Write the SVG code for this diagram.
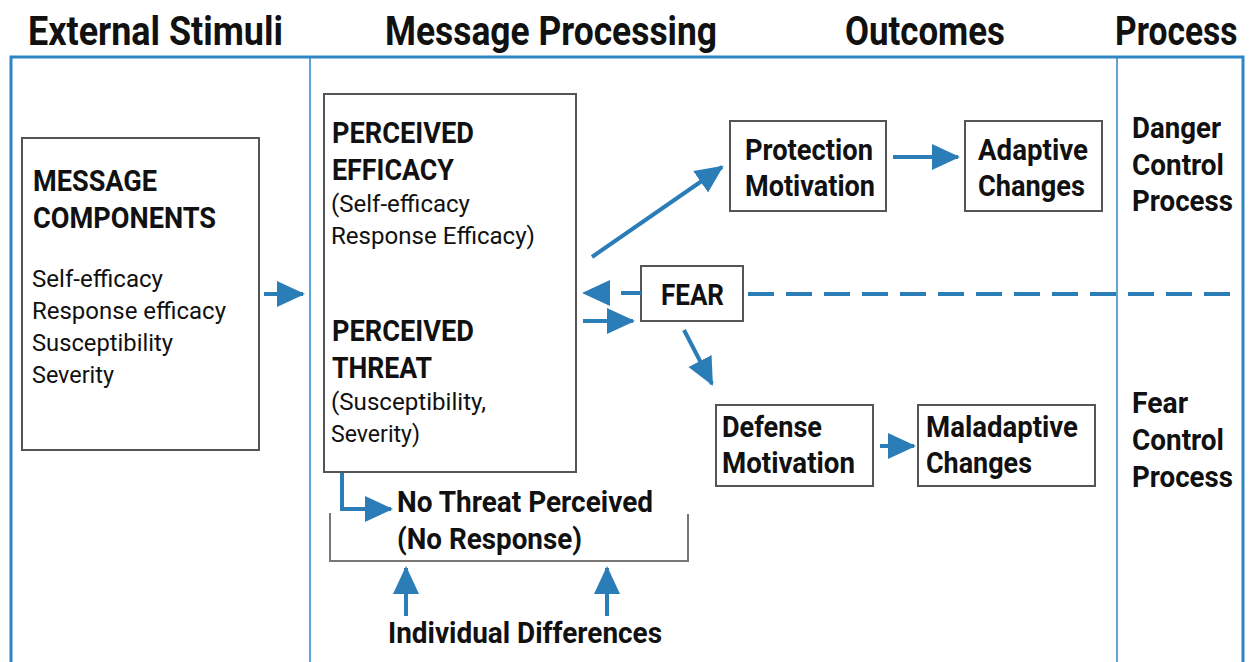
<svg xmlns="http://www.w3.org/2000/svg" width="1254" height="662" viewBox="0 0 1254 662">
<style>
.hdr{font-family:Roboto,"Liberation Sans",sans-serif;font-weight:bold;font-size:40px;fill:#111}
.b{font-family:Roboto,"Liberation Sans",sans-serif;font-weight:bold;font-size:29px;fill:#111}
.r{font-family:Roboto,"Liberation Sans",sans-serif;font-size:23px;fill:#111}
.box{fill:#fff;stroke:#555;stroke-width:2}
.con{stroke:#2b7db8;stroke-width:4;fill:none}
.frame{fill:none;stroke:#2d86c3}
</style>
<defs>
<marker id="ah" markerUnits="userSpaceOnUse" markerWidth="30" markerHeight="30" viewBox="0 0 30 30" refX="26" refY="15" orient="auto">
<path d="M0,2 L28,15 L0,28 Z" fill="#2b7db8"/>
</marker>
</defs>
<rect width="1254" height="662" fill="#fff"/>
<g id="headers">
<text class="hdr" x="28" y="45" textLength="255" lengthAdjust="spacingAndGlyphs">External Stimuli</text>
<text class="hdr" x="385" y="45" textLength="332" lengthAdjust="spacingAndGlyphs">Message Processing</text>
<text class="hdr" x="845" y="45" textLength="160" lengthAdjust="spacingAndGlyphs">Outcomes</text>
<text class="hdr" transform="translate(1115,45) scale(0.84,1)" x="0" y="0">Process</text>
</g>
<g id="frame">
<rect class="frame" x="11" y="57" width="1232" height="630" stroke-width="3"/>
<line class="frame" x1="310" y1="58" x2="310" y2="662" stroke-width="1.5"/>
<line class="frame" x1="1117" y1="58" x2="1117" y2="662" stroke-width="1.5"/>
</g>
<g id="message-components">
<rect class="box" x="22" y="138" width="237" height="312"/>
<text class="b" x="33" y="191" textLength="124" lengthAdjust="spacingAndGlyphs">MESSAGE</text>
<text class="b" x="33" y="228" textLength="183" lengthAdjust="spacingAndGlyphs">COMPONENTS</text>
<text class="r" x="32" y="287" textLength="131" lengthAdjust="spacingAndGlyphs">Self-efficacy</text>
<text class="r" x="32" y="319" textLength="194" lengthAdjust="spacingAndGlyphs">Response efficacy</text>
<text class="r" x="32" y="351" textLength="141" lengthAdjust="spacingAndGlyphs">Susceptibility</text>
<text class="r" x="32" y="383" textLength="82" lengthAdjust="spacingAndGlyphs">Severity</text>
</g>
<g id="perceived">
<rect class="box" x="324" y="94" width="252" height="378"/>
<text class="b" x="332" y="143" textLength="142" lengthAdjust="spacingAndGlyphs">PERCEIVED</text>
<text class="b" x="332" y="180" textLength="122" lengthAdjust="spacingAndGlyphs">EFFICACY</text>
<text class="r" x="331" y="212" textLength="139" lengthAdjust="spacingAndGlyphs">(Self-efficacy</text>
<text class="r" x="331" y="244" textLength="204" lengthAdjust="spacingAndGlyphs">Response Efficacy)</text>
<text class="b" x="332" y="341" textLength="142" lengthAdjust="spacingAndGlyphs">PERCEIVED</text>
<text class="b" x="332" y="378" textLength="100" lengthAdjust="spacingAndGlyphs">THREAT</text>
<text class="r" x="331" y="410" textLength="155" lengthAdjust="spacingAndGlyphs">(Susceptibility,</text>
<text class="r" x="331" y="442" textLength="89" lengthAdjust="spacingAndGlyphs">Severity)</text>
</g>
<g id="fear">
<rect class="box" x="641" y="266" width="102" height="55"/>
<text class="b" x="661" y="305" textLength="63" lengthAdjust="spacingAndGlyphs">FEAR</text>
</g>
<g id="protection-motivation">
<rect class="box" x="730" y="121" width="156" height="90"/>
<text class="b" x="745" y="160" textLength="128" lengthAdjust="spacingAndGlyphs">Protection</text>
<text class="b" x="745" y="196" textLength="130" lengthAdjust="spacingAndGlyphs">Motivation</text>
</g>
<g id="adaptive-changes">
<rect class="box" x="965" y="121" width="137" height="90"/>
<text class="b" x="978" y="160" textLength="110" lengthAdjust="spacingAndGlyphs">Adaptive</text>
<text class="b" x="978" y="196" textLength="107" lengthAdjust="spacingAndGlyphs">Changes</text>
</g>
<g id="defense-motivation">
<rect class="box" x="716" y="405" width="157" height="81"/>
<text class="b" x="722" y="437" textLength="100" lengthAdjust="spacingAndGlyphs">Defense</text>
<text class="b" x="722" y="473" textLength="133" lengthAdjust="spacingAndGlyphs">Motivation</text>
</g>
<g id="maladaptive-changes">
<rect class="box" x="918" y="405" width="177" height="81"/>
<text class="b" x="926" y="437" textLength="152" lengthAdjust="spacingAndGlyphs">Maladaptive</text>
<text class="b" x="926" y="473" textLength="106" lengthAdjust="spacingAndGlyphs">Changes</text>
</g>
<g id="danger-control">
<text class="b" x="1132" y="138" textLength="89" lengthAdjust="spacingAndGlyphs">Danger</text>
<text class="b" x="1132" y="175" textLength="92" lengthAdjust="spacingAndGlyphs">Control</text>
<text class="b" x="1132" y="211" textLength="101" lengthAdjust="spacingAndGlyphs">Process</text>
</g>
<g id="fear-control">
<text class="b" x="1132" y="413" textLength="56" lengthAdjust="spacingAndGlyphs">Fear</text>
<text class="b" x="1132" y="450" textLength="92" lengthAdjust="spacingAndGlyphs">Control</text>
<text class="b" x="1132" y="487" textLength="101" lengthAdjust="spacingAndGlyphs">Process</text>
</g>
<g id="no-threat">
<text class="b" x="397" y="512" textLength="256" lengthAdjust="spacingAndGlyphs">No Threat Perceived</text>
<text class="b" x="397" y="549" textLength="185" lengthAdjust="spacingAndGlyphs">(No Response)</text>
<path d="M330,513 V561 H688 V514" fill="none" stroke="#777" stroke-width="2"/>
</g>
<g id="individual-differences">
<text class="b" x="388" y="643" textLength="274" lengthAdjust="spacingAndGlyphs">Individual Differences</text>
</g>
<g id="connectors">
<line class="con" x1="264" y1="294" x2="303" y2="294" marker-end="url(#ah)"/>
<line class="con" x1="592" y1="257" x2="722" y2="167" marker-end="url(#ah)"/>
<line class="con" x1="893" y1="157" x2="958" y2="157" marker-end="url(#ah)"/>
<line class="con" x1="641" y1="293" x2="584" y2="293" stroke-dasharray="20,12" stroke-width="3" marker-end="url(#ah)"/>
<line class="con" x1="748" y1="294" x2="1243" y2="294" stroke-dasharray="26,12" stroke-width="3"/>
<line class="con" x1="583" y1="321" x2="633" y2="321" stroke-width="3" marker-end="url(#ah)"/>
<line class="con" x1="684" y1="330" x2="712" y2="384" marker-end="url(#ah)"/>
<line class="con" x1="880" y1="446" x2="914" y2="446" marker-end="url(#ah)"/>
<path class="con" d="M342,473 V509 H391" stroke-width="3" marker-end="url(#ah)"/>
<line class="con" x1="406" y1="616" x2="406" y2="568" marker-end="url(#ah)"/>
<line class="con" x1="607" y1="616" x2="607" y2="568" marker-end="url(#ah)"/>
</g>
</svg>
